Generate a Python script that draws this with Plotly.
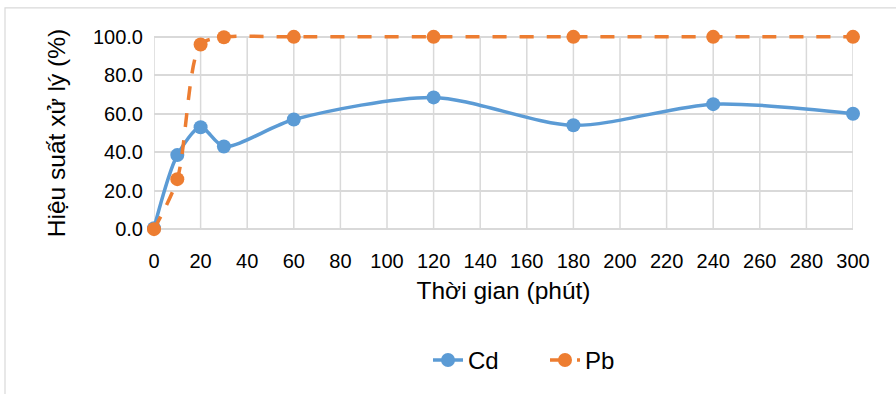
import plotly.graph_objects as go

time_min = [0, 10, 20, 30, 60, 120, 180, 240, 300]
cd_eff = [0.5, 38.5, 53.0, 43.0, 57.0, 68.5, 54.0, 65.0, 60.0]
pb_eff = [0.0, 26.0, 96.0, 99.8, 100.0, 100.0, 100.0, 100.0, 100.0]
x_ticks = list(range(0, 301, 20))
y_ticks = [0, 20, 40, 60, 80, 100]

FONT = "Arial, 'Liberation Sans', sans-serif"
BLUE = "#5B9BD5"
ORANGE = "#ED7D31"
GRID = "#D9D9D9"

fig = go.Figure()
fig.add_trace(go.Scatter(
    x=time_min, y=cd_eff, name="Cd", mode="lines+markers",
    line=dict(color=BLUE, width=3.5, shape="spline", smoothing=0.8),
    marker=dict(color=BLUE, size=14, symbol="circle"),
    cliponaxis=False,
))
fig.add_trace(go.Scatter(
    x=time_min, y=pb_eff, name="Pb", mode="lines+markers",
    line=dict(color=ORANGE, width=3.5, dash="14px,13px", shape="spline", smoothing=0.8),
    marker=dict(color=ORANGE, size=14, symbol="circle"),
    cliponaxis=False,
))

W, H = 896, 394
# pixel frame for the value range 0..100
top_px, bot_px, left_px, right_px = 37, 229, 154, 853
y_lo, y_hi = 0, 100
pad_u = 2.0
ppu = (bot_px - top_px) / (y_hi - y_lo)
T = top_px - pad_u * ppu
B = H - (bot_px + pad_u * ppu)
L, R = left_px, W - right_px
pw, ph = W - L - R, H - T - B

def py(pix):
    return (H - B - pix) / ph

def px(pix):
    return (pix - L) / pw

shapes = [dict(type="line", xref="x", yref="y", x0=v, x1=v, y0=y_lo, y1=y_hi,
               line=dict(color=GRID, width=1.5), layer="below") for v in x_ticks]
shapes.append(dict(type="line", xref="x", yref="y", x0=0, x1=300, y0=y_lo, y1=y_lo,
                   line=dict(color="#BFBFBF", width=1.5), layer="below"))
shapes.append(dict(type="rect", xref="paper", yref="paper",
                   x0=px(5), x1=px(W + 10), y0=py(H + 10), y1=py(8),
                   line=dict(color=GRID, width=1.2), fillcolor="rgba(0,0,0,0)",
                   layer="below"))

fig.update_layout(
    width=W, height=H,
    margin=dict(l=L, r=R, t=T, b=B, pad=0),
    paper_bgcolor="white", plot_bgcolor="white",
    font=dict(family=FONT, size=20, color="#000000"),
    showlegend=True,
    legend=dict(orientation="h", x=px(545), xanchor="center",
                y=py(360), yanchor="middle",
                font=dict(size=24), traceorder="normal",
                entrywidth=72, entrywidthmode="pixels",
                bgcolor="rgba(0,0,0,0)"),
    xaxis=dict(
        range=[0, 300], tickvals=x_ticks, ticktext=[str(v) for v in x_ticks],
        showgrid=False, showline=False,
        zeroline=False, ticks="outside", ticklen=14 - pad_u * ppu,
        tickcolor="rgba(0,0,0,0)",
        tickfont=dict(size=20),
        title=dict(text="Thời gian (phút)", font=dict(size=24.5), standoff=10),
        automargin=False,
    ),
    yaxis=dict(
        range=[y_lo - pad_u, y_hi + pad_u], tickvals=y_ticks, tickformat=".1f",
        showgrid=True, gridcolor=GRID, gridwidth=1.5,
        showline=False, zeroline=False,
        ticks="outside", ticklen=6, tickcolor="rgba(0,0,0,0)",
        tickfont=dict(size=20),
        title=dict(text="Hiệu suất xử lý (%)", font=dict(size=24.5), standoff=20),
        automargin=False,
    ),
    shapes=shapes,
)

fig.write_html("out.html")
